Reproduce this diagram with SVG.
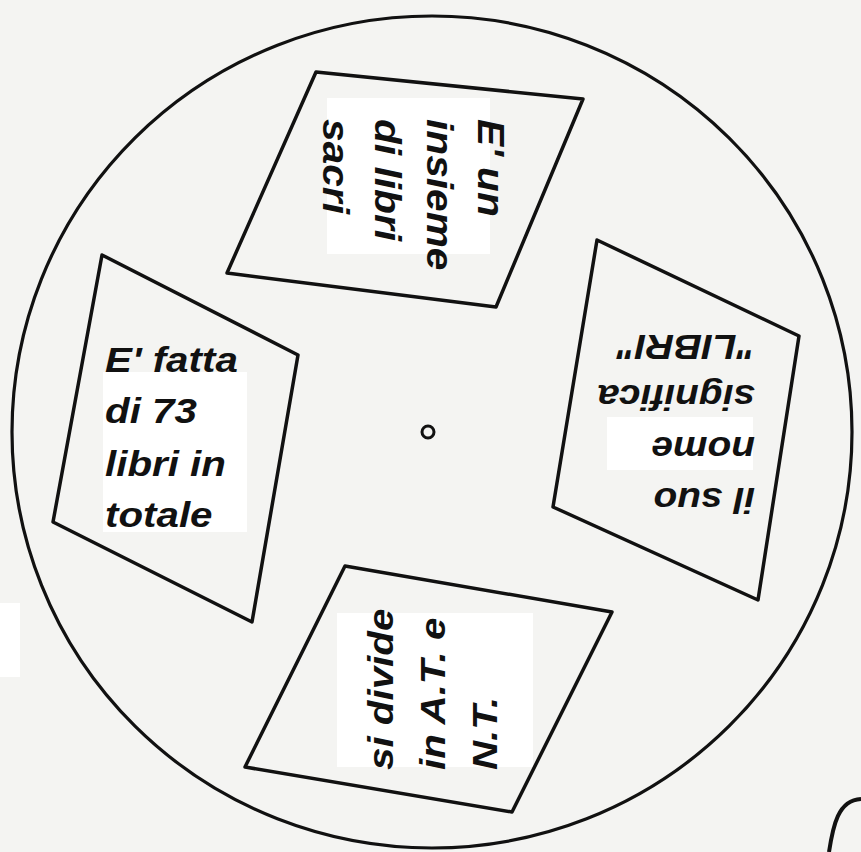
<svg xmlns="http://www.w3.org/2000/svg" width="861" height="852" viewBox="0 0 861 852">
<style>
.ln{fill:none;stroke:#111;stroke-width:3.5;stroke-linejoin:round}
.wb{fill:#ffffff;stroke:none}
.t{font-family:"Liberation Sans",Arial,sans-serif;font-weight:bold;font-style:italic;font-size:36px;fill:#111}
</style>
<rect x="0" y="0" width="861" height="852" fill="#f4f4f2"/>
<rect class="wb" x="0" y="603" width="20" height="74"/>
<g id="wheel">
<ellipse cx="432" cy="432" rx="420" ry="416" fill="none" stroke="#111" stroke-width="3.2"/>
<circle cx="428" cy="432" r="6" fill="none" stroke="#111" stroke-width="3"/>
</g>
<g id="node-top">
<rect class="wb" x="327" y="98" width="163" height="156"/>
<polygon class="ln" points="316,72 583,99 496,307 227,273"/>
<g transform="translate(478,119) rotate(90) scale(1.13,1)">
<text class="t" x="0" y="0">E' un</text>
<text class="t" x="0" y="51">insieme</text>
<text class="t" x="0" y="103">di libri</text>
<text class="t" x="0" y="155">sacri</text>
</g>
</g>
<g id="node-left">
<rect class="wb" x="103" y="372" width="144" height="160"/>
<polygon class="ln" points="102,255 298,355 252,622 53,522"/>
<g transform="translate(105,372) scale(1.12,1)">
<text class="t" x="0" y="0">E' fatta</text>
<text class="t" x="0" y="51">di 73</text>
<text class="t" x="0" y="104">libri in</text>
<text class="t" x="0" y="155">totale</text>
</g>
</g>
<g id="node-right">
<rect class="wb" x="607" y="417" width="146" height="53"/>
<polygon class="ln" points="597,240 799,336 758,600 553,507"/>
<g transform="translate(755,488) rotate(180) scale(1.08,1)">
<text class="t" x="0" y="0">il suo</text>
<text class="t" x="0" y="51">nome</text>
<text class="t" x="0" y="103">significa</text>
<text class="t" x="0" y="153">"LIBRI"</text>
</g>
</g>
<g id="node-bottom">
<rect class="wb" x="337" y="613" width="196" height="154"/>
<polygon class="ln" points="345,566 612,612 512,812 245,767"/>
<g transform="translate(393,770) rotate(-90) scale(1.12,1)">
<text class="t" x="0" y="0">si divide</text>
<text class="t" x="0" y="52">in A.T. e</text>
<text class="t" x="0" y="104">N.T.</text>
</g>
</g>
<g id="corner-shape">
<path d="M829,852 C833,826 838,800 861,799" fill="none" stroke="#111" stroke-width="4"/>
</g>
<g id="connectors"/>
</svg>
